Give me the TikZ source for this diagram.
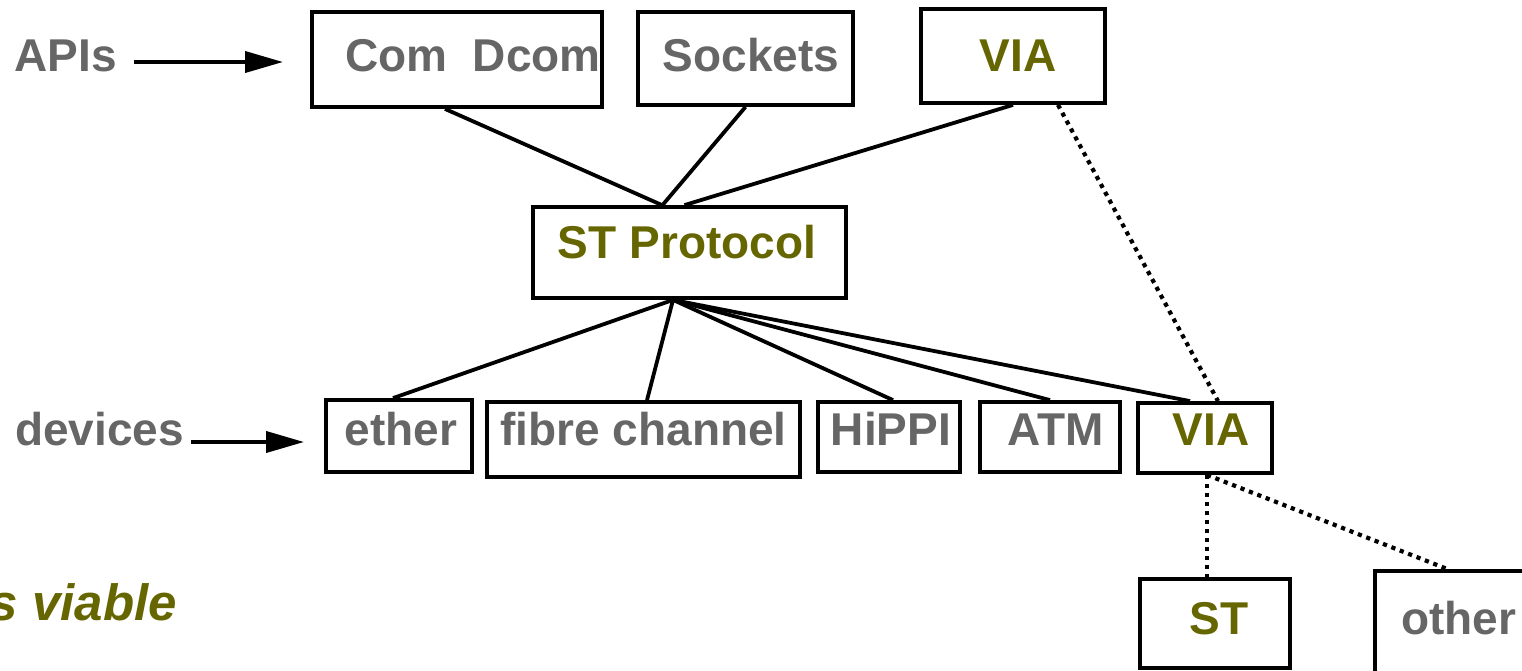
\documentclass[tikz,border=0pt]{standalone}
\usepackage{fontspec}
\setmainfont{Liberation Sans}
\usetikzlibrary{arrows.meta}
\definecolor{txtgray}{RGB}{102,102,102}
\definecolor{olive}{RGB}{102,102,0}
\begin{document}
\begin{tikzpicture}[x=1pt,y=-1pt,
  box/.style={draw,line width=3.8pt,rectangle,inner sep=0pt,fill=none},
  lbl/.style={anchor=base,inner sep=0pt,font=\fontsize{46}{50}\selectfont\bfseries,text=txtgray},
  hl/.style={lbl,text=olive},
  link/.style={line width=3.8pt},
  dotlink/.style={line width=4.2pt,dash pattern=on 4.2pt off 4.8pt},
  pointer/.style={line width=3.8pt,-{Triangle[length=38pt,width=21pt]}}]
\clip (0,0) rectangle (1522,670);

% API layer
\node[box,minimum width=290pt,minimum height=95pt] (comdcom) at (457,59.5) {};
\node[box,minimum width=215pt,minimum height=93pt] (sockets) at (745.5,58.5) {};
\node[box,minimum width=184pt,minimum height=94pt] (viatop) at (1013,56) {};
\node[lbl] (tcom) at (473,71) {Com\ \ Dcom};
\node[lbl] (tsock) at (751,71) {Sockets};
\node[hl] (tviatop) at (1018,71) {VIA};

% protocol
\node[box,minimum width=313pt,minimum height=91pt] (stp) at (689.5,252.5) {};
\node[hl] (tstp) at (687,258) {ST Protocol};

% device layer
\node[box,minimum width=146pt,minimum height=72pt] (ether) at (399,436) {};
\node[box,minimum width=313pt,minimum height=75pt] (fibre) at (643.5,439.5) {};
\node[box,minimum width=142pt,minimum height=70pt] (hippi) at (889,437) {};
\node[box,minimum width=140pt,minimum height=70pt] (atm) at (1050,437) {};
\node[box,minimum width=134pt,minimum height=70pt] (viabot) at (1205,438) {};
\node[lbl] (tether) at (401,445) {ether};
\node[lbl] (tfibre) at (643.5,445) {fibre channel};
\node[lbl] (thippi) at (891,445) {HiPPI};
\node[lbl] (tatm) at (1056,445) {ATM};
\node[hl] (tviabot) at (1211,445) {VIA};

% VIA targets
\node[box,minimum width=150pt,minimum height=89pt] (st) at (1215,623.5) {};
\node[box,minimum width=185pt,minimum height=130pt] (other) at (1467.5,636) {};
\node[hl] (tst) at (1219,634) {ST};
\node[lbl] (tother) at (1458.5,634) {other};

% side captions
\node[lbl] (apis) at (65.5,71) {APIs};
\node[lbl] (devices) at (99.5,445) {devices};
\node[hl,anchor=base east,font=\fontsize{51}{55}\selectfont\bfseries\itshape] (viable) at (177,620) {s viable};
\coordinate (apisend) at (283,62);
\coordinate (devend) at (304,442);
\draw[pointer] ([xshift=17pt,yshift=9pt]apis.base east) -- (apisend);
\draw[pointer] ([xshift=7pt,yshift=3pt]devices.base east) -- (devend);

% APIs to protocol
\draw[link] ([xshift=-12pt]comdcom.south) -- ([xshift=-27.5pt]stp.north);
\draw[link] (sockets.south) -- ([xshift=-27pt]stp.north);
\draw[link] (viatop.south) -- ([xshift=-5pt]stp.north);

% protocol to devices
\draw[link] ([xshift=-16.5pt]stp.south) -- ([xshift=-6pt]ether.north);
\draw[link] ([xshift=-16.5pt]stp.south) -- ([xshift=3.5pt]fibre.north);
\draw[link] ([xshift=-16.5pt]stp.south) -- ([xshift=4pt]hippi.north);
\draw[link] ([xshift=-16.5pt]stp.south) -- (atm.north);
\draw[link] ([xshift=-16.5pt]stp.south) -- ([xshift=-15pt]viabot.north);

% VIA bypass
\draw[dotlink] ([xshift=45pt]viatop.south) -- ([xshift=13pt]viabot.north);
\draw[dotlink] ([xshift=2pt]viabot.south) -- ([xshift=-8pt]st.north);
\draw[dotlink] ([xshift=2pt]viabot.south) -- ([xshift=-20pt]other.north);
\end{tikzpicture}
\end{document}
